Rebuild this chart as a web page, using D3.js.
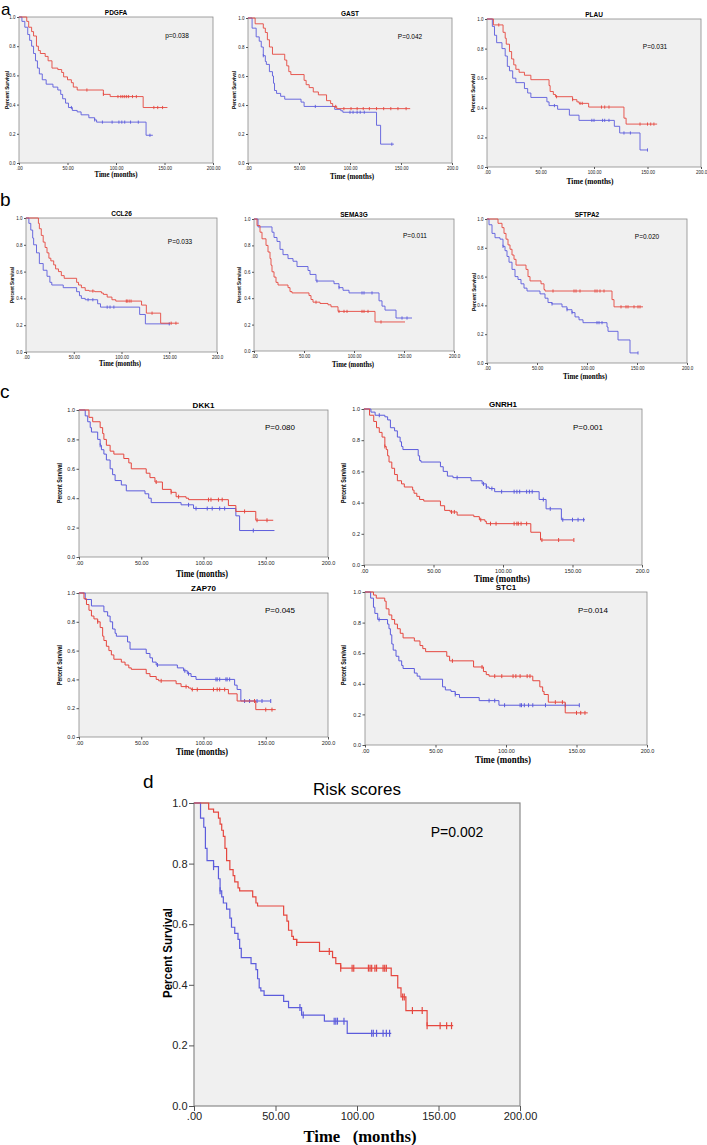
<!DOCTYPE html>
<html><head><meta charset="utf-8">
<script src="https://cdn.jsdelivr.net/npm/d3@7"></script>
<style>body{margin:0;background:#fff}svg{display:block}</style>
</head><body><svg id="c" width="707" height="1145"></svg>
<script>
// ---------- DATA (Kaplan–Meier steps: [time, survival after drop]) ----------
const yTicks = [0, 0.2, 0.4, 0.6, 0.8, 1.0];
const xTicks = [0, 50, 100, 150, 200];

const pdgfaRed = [[8,0.97],[10,0.93],[13,0.9],[15,0.87],[18,0.8],[20,0.77],[22,0.75],[27,0.73],[30,0.7],[34,0.65],[40,0.64],[44,0.62],[46,0.59],[50,0.57],[54,0.55],[56,0.52],[60,0.5],[87,0.47],[94,0.455],[128,0.38]];
const pdgfaRedEnd = 153, pdgfaRedCens = [70,87,102,105,107,109,111,113,117,121,139,143,148];
const pdgfaBlue = [[3,0.97],[6,0.93],[9,0.88],[11,0.84],[13,0.8],[15,0.75],[17,0.7],[19,0.65],[21,0.61],[24,0.57],[28,0.54],[35,0.52],[40,0.5],[43,0.47],[45,0.44],[48,0.41],[51,0.38],[55,0.36],[60,0.35],[64,0.33],[72,0.31],[78,0.295],[80,0.28],[131,0.19]];
const pdgfaBlueEnd = 138, pdgfaBlueCens = [54,78,86,96,103,106,109,115,123,135];

const gastRed = [[7,0.96],[15,0.93],[17,0.9],[19,0.85],[21,0.8],[24,0.75],[36,0.71],[38,0.67],[40,0.63],[42,0.61],[55,0.57],[57,0.54],[60,0.52],[64,0.49],[69,0.47],[77,0.43],[81,0.41],[83,0.39],[87,0.375]];
const gastRedEnd = 159, gastRedCens = [86,94,101,107,113,119,126,133,140,147,155];
const gastBlue = [[4,0.93],[8,0.87],[11,0.84],[13,0.8],[15,0.74],[17,0.7],[18,0.68],[21,0.63],[24,0.6],[25,0.55],[26,0.5],[28,0.48],[32,0.46],[36,0.44],[52,0.42],[55,0.39],[85,0.37],[91,0.36],[93,0.35],[126,0.26],[130,0.13]];
const gastBlueEnd = 143, gastBlueCens = [15,66,100,103,107,110,114,141];

const plauRed = [[6,0.96],[15,0.91],[17,0.87],[18,0.83],[21,0.78],[23,0.73],[25,0.69],[27,0.66],[30,0.64],[35,0.62],[41,0.59],[58,0.55],[59,0.51],[62,0.49],[64,0.475],[80,0.455],[84,0.44],[86,0.43],[95,0.405],[128,0.33],[130,0.29]];
const plauRedEnd = 159, plauRedCens = [11,65,80,87,89,107,110,114,143,150,153,156];
const plauBlue = [[5,0.95],[7,0.89],[9,0.84],[14,0.8],[17,0.75],[19,0.68],[21,0.65],[24,0.6],[27,0.57],[35,0.53],[38,0.5],[41,0.47],[56,0.44],[58,0.415],[66,0.39],[77,0.35],[86,0.315],[119,0.275],[124,0.23],[143,0.115]];
const plauBlueEnd = 150, plauBlueCens = [63,98,100,108,110,114,128,134,150];

const ccl26Red = [[13,0.96],[14,0.92],[16,0.87],[18,0.82],[20,0.78],[22,0.74],[24,0.7],[26,0.68],[29,0.65],[31,0.62],[34,0.6],[37,0.57],[40,0.55],[53,0.52],[55,0.5],[58,0.48],[62,0.46],[66,0.455],[72,0.45],[79,0.44],[81,0.43],[85,0.41],[90,0.39],[94,0.38],[121,0.35],[126,0.29],[141,0.215]];
const ccl26RedEnd = 160, ccl26RedCens = [70,105,106,108,110,132,152,157];
const ccl26Blue = [[3,0.96],[5,0.91],[7,0.85],[8,0.8],[11,0.74],[14,0.66],[18,0.61],[22,0.565],[25,0.52],[27,0.5],[39,0.48],[53,0.45],[56,0.42],[58,0.4],[62,0.39],[75,0.36],[78,0.335],[119,0.28],[125,0.21]];
const ccl26BlueEnd = 151, ccl26BlueCens = [65,70,85,88,92,150];

const sema3gBlue = [[4,0.94],[18,0.9],[20,0.86],[23,0.83],[26,0.77],[29,0.73],[34,0.7],[39,0.68],[43,0.64],[54,0.61],[56,0.58],[62,0.53],[80,0.51],[85,0.48],[89,0.46],[95,0.44],[125,0.38],[128,0.34],[131,0.31],[142,0.25]];
const sema3gBlueEnd = 158, sema3gBlueCens = [63,85,108,110,118,148,153];
const sema3gRed = [[3,0.95],[6,0.9],[8,0.85],[12,0.8],[14,0.75],[16,0.7],[17,0.65],[18,0.6],[20,0.56],[22,0.52],[24,0.5],[34,0.48],[36,0.45],[38,0.44],[55,0.42],[57,0.39],[59,0.37],[66,0.36],[74,0.35],[77,0.335],[84,0.3],[121,0.22]];
const sema3gRedEnd = 151, sema3gRedCens = [62,85,90,93,108,110,114,127];

const sftpa2Red = [[11,0.97],[15,0.94],[17,0.9],[19,0.86],[21,0.82],[23,0.79],[25,0.75],[27,0.72],[29,0.68],[39,0.65],[41,0.6],[43,0.57],[54,0.55],[57,0.51],[58,0.5],[125,0.44],[127,0.39]];
const sftpa2RedEnd = 156, sftpa2RedCens = [66,87,89,93,108,110,113,117,134,139,141,147,151,153];
const sftpa2Blue = [[2,0.96],[5,0.9],[8,0.87],[13,0.86],[16,0.81],[18,0.78],[20,0.74],[22,0.7],[25,0.65],[28,0.6],[31,0.58],[34,0.55],[37,0.52],[40,0.5],[53,0.48],[58,0.45],[61,0.42],[65,0.41],[75,0.39],[80,0.37],[85,0.35],[88,0.32],[92,0.3],[96,0.28],[120,0.25],[121,0.22],[131,0.16],[143,0.07]];
const sftpa2BlueEnd = 151, sftpa2BlueCens = [16,65,80,85,110,112,115,151];

const dkk1Red = [[8,0.95],[11,0.92],[17,0.88],[19,0.84],[20,0.8],[22,0.76],[25,0.72],[28,0.7],[36,0.67],[40,0.64],[42,0.6],[54,0.57],[57,0.54],[61,0.51],[67,0.46],[74,0.44],[78,0.41],[86,0.4],[88,0.39],[120,0.35],[126,0.31],[142,0.25]];
const dkk1RedEnd = 156, dkk1RedCens = [62,74,80,104,106,112,115,133,143,151];
const dkk1Blue = [[5,0.96],[7,0.92],[9,0.88],[10,0.85],[15,0.8],[17,0.76],[18,0.73],[20,0.7],[22,0.66],[25,0.6],[27,0.56],[29,0.52],[34,0.49],[38,0.45],[53,0.43],[56,0.4],[58,0.37],[82,0.355],[92,0.33],[126,0.28],[129,0.18]];
const dkk1BlueEnd = 157, dkk1BlueCens = [17,88,94,103,107,113,117,140];

const gnrh1Blue = [[5,0.98],[8,0.96],[15,0.95],[17,0.93],[19,0.88],[22,0.86],[24,0.82],[26,0.79],[27,0.76],[28,0.74],[39,0.7],[40,0.67],[41,0.66],[55,0.63],[57,0.6],[60,0.57],[64,0.56],[77,0.54],[85,0.52],[88,0.5],[90,0.49],[94,0.47],[126,0.42],[131,0.36],[142,0.29]];
const gnrh1BlueEnd = 159, gnrh1BlueCens = [11,67,86,88,92,99,108,110,112,117,119,121,129,134,143,150,154,158];
const gnrh1Red = [[4,0.96],[7,0.92],[9,0.88],[11,0.85],[13,0.82],[15,0.76],[16,0.74],[17,0.7],[18,0.66],[20,0.62],[22,0.58],[24,0.54],[27,0.52],[29,0.5],[35,0.48],[36,0.46],[38,0.44],[40,0.42],[43,0.41],[55,0.38],[58,0.35],[62,0.34],[67,0.32],[79,0.31],[83,0.29],[87,0.28],[88,0.265],[120,0.21],[127,0.16]];
const gnrh1RedEnd = 151, gnrh1RedCens = [15,63,65,84,91,95,108,110,111,113,117,128,140,151];

const zap70Blue = [[5,0.955],[10,0.91],[20,0.87],[23,0.84],[25,0.8],[27,0.75],[29,0.72],[30,0.7],[39,0.66],[41,0.61],[54,0.58],[57,0.55],[59,0.52],[62,0.5],[79,0.48],[84,0.46],[87,0.44],[90,0.42],[94,0.4],[125,0.36],[127,0.33],[130,0.25]];
const zap70BlueEnd = 154, zap70BlueCens = [63,85,88,110,111,113,118,119,121,133,137,143,147,154];
const zap70Red = [[4,0.96],[6,0.92],[8,0.88],[10,0.84],[12,0.82],[15,0.8],[17,0.76],[19,0.7],[20,0.67],[22,0.63],[24,0.6],[26,0.57],[28,0.54],[34,0.52],[37,0.5],[40,0.48],[42,0.47],[54,0.44],[57,0.42],[62,0.4],[64,0.39],[78,0.37],[82,0.35],[88,0.34],[90,0.33],[120,0.3],[127,0.25],[142,0.19]];
const zap70RedEnd = 158, zap70RedCens = [15,66,86,91,95,108,111,113,117,141,150,155];

const stc1Red = [[6,0.98],[8,0.96],[14,0.94],[15,0.89],[17,0.85],[19,0.82],[21,0.79],[23,0.76],[25,0.73],[27,0.7],[35,0.68],[39,0.65],[41,0.63],[43,0.61],[58,0.58],[60,0.55],[77,0.51],[84,0.48],[86,0.46],[88,0.45],[119,0.42],[124,0.38],[126,0.35],[127,0.33],[130,0.28],[142,0.21]];
const stc1RedEnd = 158, stc1RedCens = [62,83,92,97,105,107,110,115,117,135,140,150,153,156];
const stc1Blue = [[4,0.96],[6,0.9],[7,0.86],[9,0.82],[16,0.79],[17,0.76],[18,0.72],[19,0.66],[20,0.62],[22,0.58],[24,0.55],[26,0.52],[27,0.5],[35,0.47],[37,0.45],[39,0.43],[55,0.38],[57,0.36],[61,0.35],[64,0.33],[67,0.31],[81,0.29],[95,0.26]];
const stc1BlueEnd = 152, stc1BlueCens = [10,64,88,92,99,110,111,113,116,119,128,142,152];

const riskRed = [[9,0.98],[12,0.97],[15,0.95],[16,0.93],[17,0.91],[18,0.89],[19,0.85],[20,0.81],[22,0.78],[24,0.76],[25,0.74],[27,0.72],[28,0.71],[36,0.69],[38,0.67],[39,0.66],[55,0.63],[57,0.61],[58,0.58],[60,0.56],[61,0.55],[63,0.54],[77,0.51],[85,0.49],[87,0.47],[90,0.455],[121,0.43],[125,0.39],[127,0.36],[130,0.315],[143,0.265]];
const riskRedEnd = 159, riskRedCens = [63,83,90,97,98,107,108,109,111,112,116,117,118,128,129,134,140,143,151,155,158];
const riskBlue = [[4,0.95],[6,0.92],[7,0.85],[8,0.81],[12,0.79],[15,0.75],[16,0.71],[17,0.69],[18,0.67],[20,0.65],[22,0.62],[23,0.59],[25,0.57],[27,0.55],[28,0.52],[29,0.49],[35,0.47],[38,0.45],[39,0.42],[40,0.39],[41,0.38],[43,0.365],[55,0.345],[58,0.325],[66,0.3],[80,0.28],[94,0.24]];
const riskBlueEnd = 121, riskBlueCens = [12,16,65,67,86,87,88,92,109,110,112,116,118,120];

// ---------- LAYOUT ----------
const RED = "#e5473f", BLUE = "#5c5cdc";
const small = {fsTitle:6.5, fsTick:4.5, fsP:6.5, fsX:8, fsY:6, tick:2, cens:1.6, lw:0.9};
const mid = {fsTitle:8, fsTick:5.5, fsP:8, fsX:9.5, fsY:7, tick:2.5, cens:2, lw:1};
const big = {fsTitle:17, fsTick:11, fsP:14, fsX:17, fsY:13, tick:5, cens:3.5, lw:1.2};

const panels = [
 {title:"PDGFA", p:"p=0.038", box:[19,17,213,163], pxy:[177,38], xl:[116,177,43], yl:[7,90,38], last:"200.00", st:small,
  red:[pdgfaRed,pdgfaRedEnd,pdgfaRedCens], blue:[pdgfaBlue,pdgfaBlueEnd,pdgfaBlueCens]},
 {title:"GAST", p:"P=0.042", box:[248,18,452,163], pxy:[410,39], xl:[352,179,44], yl:[234,90,38], last:"200.0", st:small,
  red:[gastRed,gastRedEnd,gastRedCens], blue:[gastBlue,gastBlueEnd,gastBlueCens]},
 {title:"PLAU", p:"P=0.031", box:[487,19,701,167], pxy:[655,49], xl:[590,184,47], yl:[473,93,38], last:"200.0", st:small,
  red:[plauRed,plauRedEnd,plauRedCens], blue:[plauBlue,plauBlueEnd,plauBlueCens]},
 {title:"CCL26", p:"P=0.033", box:[26,218,217,352], pxy:[180,244], xl:[120,366,42], yl:[12,285,36], last:"200.0", st:small,
  red:[ccl26Red,ccl26RedEnd,ccl26RedCens], blue:[ccl26Blue,ccl26BlueEnd,ccl26BlueCens]},
 {title:"SEMA3G", p:"P=0.011", box:[254,219,454,351], pxy:[415,238], xl:[353,367,42], yl:[239,285,36], last:"200.0", st:small,
  red:[sema3gRed,sema3gRedEnd,sema3gRedCens], blue:[sema3gBlue,sema3gBlueEnd,sema3gBlueCens]},
 {title:"SFTPA2", p:"P=0.020", box:[487,219,687,363], pxy:[647,239], xl:[585,379,44], yl:[474,292,38], last:"200.0", st:small,
  red:[sftpa2Red,sftpa2RedEnd,sftpa2RedCens], blue:[sftpa2Blue,sftpa2BlueEnd,sftpa2BlueCens]},
 {title:"DKK1", p:"P=0.080", box:[79,410,328,557], pxy:[280,430], xl:[202,577,52], yl:[60,483,40], last:"200.0", st:mid,
  red:[dkk1Red,dkk1RedEnd,dkk1RedCens], blue:[dkk1Blue,dkk1BlueEnd,dkk1BlueCens]},
 {title:"GNRH1", p:"P=0.001", box:[364,409,642,565], pxy:[588,430], xl:[502,582,56], yl:[344,483,40], last:"200.0", st:mid,
  red:[gnrh1Red,gnrh1RedEnd,gnrh1RedCens], blue:[gnrh1Blue,gnrh1BlueEnd,gnrh1BlueCens]},
 {title:"ZAP70", p:"P=0.045", box:[79,593,328,737], pxy:[280,613], xl:[202,755,52], yl:[60,665,40], last:"200.0", st:mid,
  red:[zap70Red,zap70RedEnd,zap70RedCens], blue:[zap70Blue,zap70BlueEnd,zap70BlueCens]},
 {title:"STC1", p:"P=0.014", box:[365,592,647,745], pxy:[593,613], xl:[503,763,56], yl:[344,665,40], last:"200.0", st:mid,
  red:[stc1Red,stc1RedEnd,stc1RedCens], blue:[stc1Blue,stc1BlueEnd,stc1BlueCens]},
 {title:"Risk scores", p:"P=0.002", box:[194,803,520,1106], pxy:[457,837], xl:[360,1142,113], yl:[167,953,90], last:"200.00", st:big, titleFont:"normal", titleGap:8,
  red:[riskRed,riskRedEnd,riskRedCens], blue:[riskBlue,riskBlueEnd,riskBlueCens], xText:"Time\u00a0\u00a0\u00a0(months)"}
];

const letters = [["a",1,15],["b",0,206],["c",0,398],["d",143,788]];

// ---------- DRAW ----------
const svg = d3.select("#c");
const serif = "'Liberation Serif','DejaVu Serif',serif";
const sans = "'Liberation Sans',Arial,sans-serif";

letters.forEach(([t,x,y]) => svg.append("text").attr("x",x).attr("y",y)
  .attr("font-family",sans).attr("font-size",t==="a"?17:19).text(t));

function survAt(steps, t){ let s=1; for(const [tt,ss] of steps){ if(tt<=t) s=ss; else break;} return s; }

panels.forEach(P => {
  const [x0,y0,x1,y1] = P.box, st = P.st;
  const x = d3.scaleLinear().domain([0,200]).range([x0,x1]);
  const y = d3.scaleLinear().domain([0,1]).range([y1,y0]);
  const g = svg.append("g");
  g.append("rect").attr("x",x0).attr("y",y0).attr("width",x1-x0).attr("height",y1-y0)
    .attr("fill","#f0f0f0").attr("stroke","#8a8a8a").attr("stroke-width",st===big?1.2:0.8);

  const fmtX = d => d===0 ? ".00" : d===200 ? P.last : d3.format(".2f")(d);
  const xa = g.append("g").attr("transform",`translate(0,${y1})`)
    .call(d3.axisBottom(x).tickValues(xTicks).tickFormat(fmtX).tickSize(st.tick).tickPadding(1.5));
  const ya = g.append("g").attr("transform",`translate(${x0},0)`)
    .call(d3.axisLeft(y).tickValues(yTicks).tickFormat(d3.format(".1f")).tickSize(st.tick).tickPadding(1.5));
  [xa,ya].forEach(a => { a.select(".domain").remove();
    a.selectAll("line").attr("stroke","#555");
    a.selectAll("text").attr("font-family",sans).attr("font-size",st.fsTick).attr("fill","#222"); });

  g.append("text").attr("x",(x0+x1)/2).attr("y",y0-(P.titleGap||2)).attr("text-anchor","middle")
    .attr("font-family",sans).attr("font-weight",P.titleFont||"bold").attr("font-size",st.fsTitle).text(P.title);
  g.append("text").attr("x",P.pxy[0]).attr("y",P.pxy[1]).attr("text-anchor","middle")
    .attr("font-family",sans).attr("font-size",st.fsP).text(P.p);
  g.append("text").attr("x",P.xl[0]).attr("y",P.xl[1]).attr("text-anchor","middle")
    .attr("font-family",serif).attr("font-weight","bold").attr("font-size",st.fsX)
    .attr("textLength",P.xl[2]).attr("lengthAdjust","spacingAndGlyphs").text(P.xText||"Time (months)");
  g.append("text").attr("transform",`translate(${P.yl[0]},${P.yl[1]}) rotate(-90)`).attr("text-anchor","middle")
    .attr("dy","0.35em").attr("font-family",sans).attr("font-weight","bold").attr("font-size",st.fsY)
    .attr("textLength",P.yl[2]).attr("lengthAdjust","spacingAndGlyphs").text("Percent Survival");

  const line = d3.line().x(d=>x(d[0])).y(d=>y(d[1])).curve(d3.curveStepAfter);
  [[P.blue,BLUE],[P.red,RED]].forEach(([[steps,end,cens],col]) => {
    const pts = [[0,1], ...steps, [end, steps[steps.length-1][1]]];
    g.append("path").attr("d",line(pts)).attr("fill","none").attr("stroke",col).attr("stroke-width",st.lw);
    g.selectAll(null).data(cens).enter().append("line")
      .attr("x1",d=>x(d)).attr("x2",d=>x(d))
      .attr("y1",d=>y(survAt(steps,d))-st.cens).attr("y2",d=>y(survAt(steps,d))+st.cens)
      .attr("stroke",col).attr("stroke-width",st.lw);
  });
});
</script></body></html>
